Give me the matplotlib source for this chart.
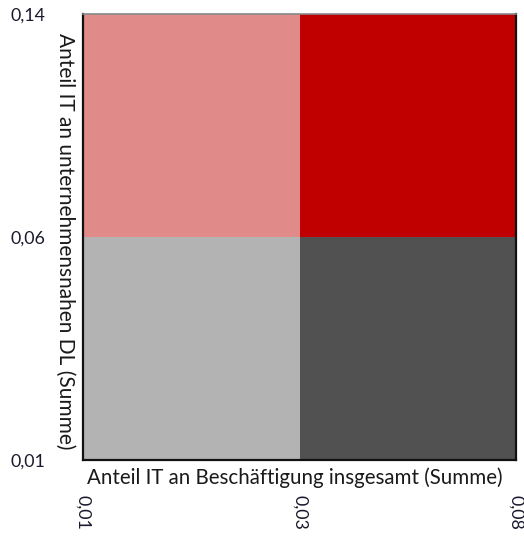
import matplotlib
matplotlib.use("Agg")
import matplotlib.pyplot as plt
import numpy as np
from matplotlib.colors import ListedColormap

plt.rcParams['font.family'] = ['Lato', 'DejaVu Sans']

x_ticks = ["0,01", "0,03", "0,08"]
y_ticks = ["0,01", "0,06", "0,14"]
# quadrant codes: rows = y (bottom to top), cols = x (left to right)
quadrants = [[0, 1],
             [2, 3]]
quad_colors = ["#B3B3B3", "#515151", "#E08B89", "#C00000"]
x_label = "Anteil IT an Beschäftigung insgesamt (Summe)"
y_label = "Anteil IT an unternehmensnahen DL (Summe)"

fig = plt.figure(figsize=(5.24, 5.36), dpi=100)
ax = fig.add_axes([83/524, 1-460/536, 433/524, 446/536])

cmap = ListedColormap(quad_colors)
xe = np.arange(len(x_ticks))
ye = np.arange(len(y_ticks))
ax.pcolormesh(xe, ye, np.array(quadrants), cmap=cmap, vmin=-0.5, vmax=3.5)
ax.set_xlim(0, len(x_ticks)-1)
ax.set_ylim(0, len(y_ticks)-1)

ax.set_xticks(xe, x_ticks, rotation=270, fontsize=12.8, color="#1a1a2e")
ax.set_yticks(ye, y_ticks, fontsize=12.8, color="#1a1a2e")
for t in ax.get_yticklabels():
    t.set_ha("left")
ax.tick_params(axis='x', length=0, pad=25)
ax.tick_params(axis='y', length=0, pad=52)

ax.text(0.49, -0.04, x_label, transform=ax.transAxes, ha="center", va="center",
        fontsize=14.8, color="#1a1a1a")
ax.text(-0.042, 0.49, y_label, transform=ax.transAxes, ha="center", va="center",
        rotation=270, fontsize=15, color="#1a1a1a")

for s in ["left", "bottom", "right"]:
    ax.spines[s].set_color("#111111")
    ax.spines[s].set_linewidth(1.6)
ax.spines["top"].set_color("#888888")
ax.spines["top"].set_linewidth(1.2)

fig.savefig("out.png", dpi=100)
